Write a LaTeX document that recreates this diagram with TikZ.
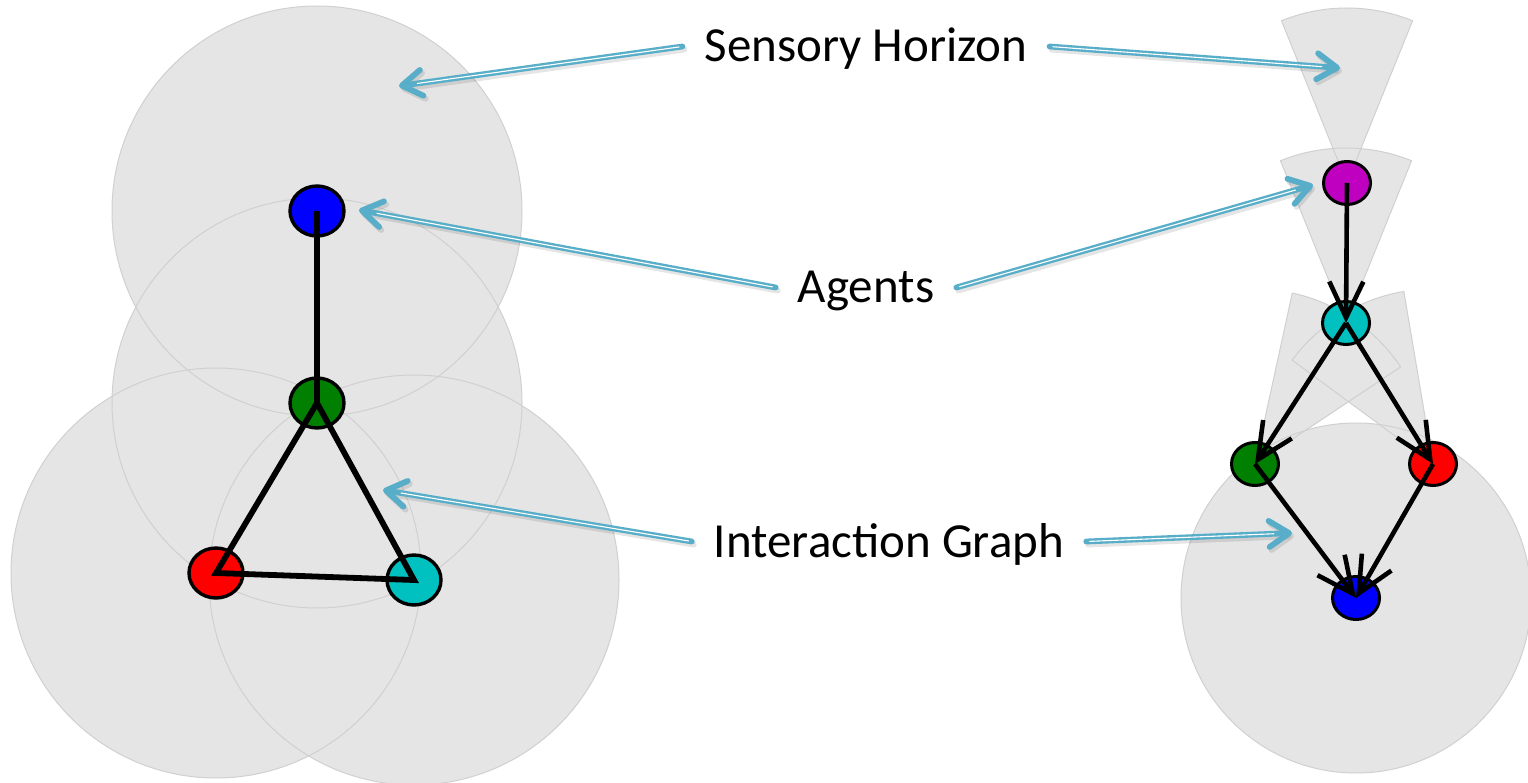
\documentclass[tikz,border=0pt]{standalone}
\usepackage{fontspec}
\setmainfont{Carlito}
\usetikzlibrary{arrows.meta,shapes.geometric}
\definecolor{zone}{RGB}{229,229,229}
\definecolor{zoneline}{RGB}{208,208,208}
\definecolor{callblue}{RGB}{88,174,200}
\definecolor{agcyan}{RGB}{0,192,192}
\definecolor{aggreen}{RGB}{0,127,0}
\definecolor{agmag}{RGB}{192,0,192}
\begin{document}
\begin{tikzpicture}[x=1pt,y=-1pt,
  zonefill/.style={fill=zone,draw=none},
  zoneedge/.style={draw=zoneline,line width=1pt},
  bigagent/.style={ellipse,draw=black,line width=3.4pt,minimum width=54pt,minimum height=50pt,inner sep=0pt},
  smallagent/.style={ellipse,draw=black,line width=3pt,minimum width=47pt,minimum height=43pt,inner sep=0pt},
  undirected/.style={line width=5.8pt,black},
  directed/.style={line width=4.6pt,black,-{Straight Barb[length=36pt,width=34pt]}},
  calltext/.style={font=\fontsize{49}{57}\selectfont,text height=31pt,text depth=0pt,inner ysep=0pt,inner xsep=22pt,anchor=base},
  callout/.style={line width=5.8pt,callblue,line cap=round,-{Straight Barb[length=20pt,width=26pt,round]}},
  callgap/.style={line width=1.1pt,white,shorten >=18pt,shorten <=3pt},
  callshadow/.style={line width=6pt,black,opacity=0.10,line cap=round,transform canvas={xshift=2pt,yshift=-3pt},-{Straight Barb[length=20pt,width=26pt,round]}},
]
\useasboundingbox (0,0) rectangle (1528,783);
% agent positions
\coordinate (pb1) at (317,211);
\coordinate (pg1) at (317,403);
\coordinate (pr1) at (216,573);
\coordinate (pc1) at (414,580);
\coordinate (pm2) at (1347,183);
\coordinate (pc2) at (1346,323);
\coordinate (pg2) at (1255,464);
\coordinate (pr2) at (1433,464);
\coordinate (pb2) at (1356,598);
% sensory horizons (fills)
\foreach \p in {pb1,pg1,pr1,pc1}{\path[zonefill] (\p) circle[radius=205];}
\path[zonefill] (pb2) circle[radius=175];
\path[zonefill] (pm2) -- +(-112:175) arc[start angle=-112,end angle=-68,radius=175] -- cycle;
\path[zonefill] (pc2) -- +(-112:175) arc[start angle=-112,end angle=-68,radius=175] -- cycle;
\path[zonefill] (pg2) -- +(-77.7:175) arc[start angle=-77.7,end angle=-33.7,radius=175] -- cycle;
\path[zonefill] (pr2) -- +(-143.6:175) arc[start angle=-143.6,end angle=-99.6,radius=175] -- cycle;
% sensory horizons (outlines)
\foreach \p in {pb1,pg1,pr1,pc1}{\path[zoneedge] (\p) circle[radius=205];}
\path[zoneedge] (pb2) circle[radius=175];
\path[zoneedge] (pm2) -- +(-112:175) arc[start angle=-112,end angle=-68,radius=175] -- cycle;
\path[zoneedge] (pc2) -- +(-112:175) arc[start angle=-112,end angle=-68,radius=175] -- cycle;
\path[zoneedge] (pg2) -- +(-77.7:175) arc[start angle=-77.7,end angle=-33.7,radius=175] -- cycle;
\path[zoneedge] (pr2) -- +(-143.6:175) arc[start angle=-143.6,end angle=-99.6,radius=175] -- cycle;
% agents
\node[bigagent,fill=blue] (b1) at (pb1) {};
\node[bigagent,fill=aggreen] (g1) at (pg1) {};
\node[bigagent,fill=red] (r1) at (pr1) {};
\node[bigagent,fill=agcyan] (c1) at (pc1) {};
\node[smallagent,fill=agmag] (m2) at (pm2) {};
\node[smallagent,fill=agcyan] (c2) at (pc2) {};
\node[smallagent,fill=aggreen] (g2) at (pg2) {};
\node[smallagent,fill=red] (r2) at (pr2) {};
\node[smallagent,fill=blue] (b2) at (pb2) {};
% interaction graph (left)
\draw[undirected] (b1.center) -- (g1.center);
\draw[undirected] (g1.center) -- (r1.center) -- (c1.center) -- cycle;
% interaction graph (right)
\draw[directed] (m2.center) -- (c2.center);
\draw[directed] (c2.center) -- (g2.center);
\draw[directed] (c2.center) -- (r2.center);
\draw[directed] (g2.center) -- (b2.center);
\draw[directed] (r2.center) -- (b2.center);
% labels
\node[calltext] (sh) at (866,62) {Sensory Horizon};
\node[calltext] (ag) at (866,303) {Agents};
\node[calltext] (ig) at (889,557) {Interaction Graph};
\coordinate (shl) at (399,86);
\coordinate (shr) at (1340,68);
\coordinate (agl) at (359,210);
\coordinate (agr) at (1313,185);
\coordinate (igl) at (383,490);
\coordinate (igr) at (1292,533);
\foreach \a/\b in {sh.west/shl,sh.east/shr,ag.west/agl,ag.east/agr,ig.west/igl,ig.east/igr}{
  \draw[callshadow] (\a) -- (\b);
  \draw[callout] (\a) -- (\b);
  \draw[callgap] (\a) -- (\b);
}
\end{tikzpicture}
\end{document}
